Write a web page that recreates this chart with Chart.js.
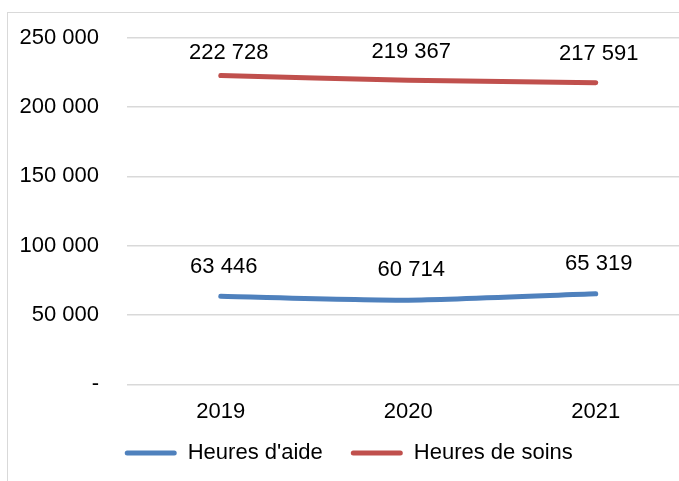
<!DOCTYPE html>
<html>
<head>
<meta charset="utf-8">
<script src="https://cdn.jsdelivr.net/npm/chart.js@4"></script>
<style>
  html, body { margin: 0; padding: 0; background: #fff; overflow: hidden; width: 679px; height: 481px; }
  #box { position: absolute; left: 7px; top: 12px; width: 690px; height: 475px; border: 1px solid #d9d9d9; background: #fff; }
  canvas { display: block; }
</style>
</head>
<body>
<div id="box"><canvas id="c" width="690" height="475"></canvas></div>
<script>
const categories = ['2019', '2020', '2021'];
const heuresAide = [63446, 60714, 65319];
const heuresSoins = [222728, 219367, 217591];
const seriesNames = ["Heures d'aide", 'Heures de soins'];
const yTicks = [0, 50000, 100000, 150000, 200000, 250000];

const FONT = 'Liberation Sans, Arial, sans-serif';
const fmt = v => v === 0 ? '-' : String(v).replace(/\B(?=(\d{3})+(?!\d))/g, ' ');

// label placement (pixels above each point), per series / per point
const labelLift = [[29, 30, 30], [23, 28, 29]];
const labelShift = [[3, 3, 3], [8, 3, 3]];

const dataLabels = {
  id: 'dataLabels',
  afterDatasetsDraw(chart) {
    const ctx = chart.ctx;
    ctx.save();
    ctx.font = '22px ' + FONT;
    ctx.fillStyle = '#000';
    ctx.textAlign = 'center';
    ctx.textBaseline = 'middle';
    chart.data.datasets.forEach((ds, i) => {
      const meta = chart.getDatasetMeta(i);
      meta.data.forEach((pt, j) => {
        ctx.fillText(fmt(ds.data[j]), pt.x + labelShift[i][j], pt.y - labelLift[i][j]);
      });
    });
    ctx.restore();
  }
};

new Chart(document.getElementById('c'), {
  type: 'line',
  data: {
    labels: categories,
    datasets: [
      { label: seriesNames[0], data: heuresAide, borderColor: '#4F81BD', backgroundColor: '#4F81BD',
        borderWidth: 5, pointRadius: 0, tension: 0.2, borderCapStyle: 'round' },
      { label: seriesNames[1], data: heuresSoins, borderColor: '#C0504D', backgroundColor: '#C0504D',
        borderWidth: 5, pointRadius: 0, tension: 0.2, borderCapStyle: 'round' }
    ]
  },
  options: {
    responsive: false,
    animation: false,
    layout: { padding: { top: 24.7, right: 8.5, left: 0, bottom: 14 } },
    scales: {
      x: {
        offset: true,
        grid: { display: false, drawTicks: false },
        border: { display: false },
        afterFit: s => { s.height = 29.7; s._computeLabelArea = () => undefined; },
        ticks: { color: '#000', font: { family: FONT, size: 22 }, padding: 14, maxRotation: 0 }
      },
      y: {
        min: 0, max: 250000,
        afterBuildTicks: s => { s.ticks = yTicks.map(v => ({ value: v })); },
        afterFit: s => { s.width = 119; s.paddingTop = 10; s.paddingBottom = 10; },
        grid: { color: '#d9d9d9', lineWidth: 1.5, drawTicks: false },
        border: { display: false },
        ticks: { color: '#000', font: { family: FONT, size: 22 }, padding: 28, callback: v => fmt(v) }
      }
    },
    plugins: {
      tooltip: { enabled: false },
      legend: {
        position: 'bottom',
        labels: {
          color: '#000',
          font: { family: FONT, size: 22 },
          boxWidth: 52, boxHeight: 5, padding: 28,
          useBorderRadius: true, borderRadius: 2.5,
          generateLabels: chart => Chart.defaults.plugins.legend.labels.generateLabels(chart)
            .map(l => Object.assign(l, { lineWidth: 0, fillStyle: l.strokeStyle }))
        }
      }
    }
  },
  plugins: [dataLabels]
});
</script>
</body>
</html>
